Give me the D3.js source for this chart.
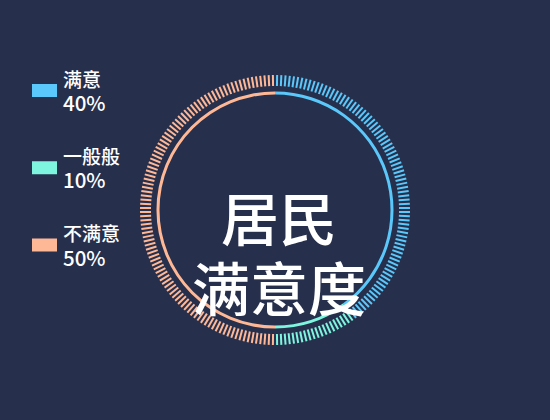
<!DOCTYPE html>
<html>
<head>
<meta charset="utf-8">
<script src="https://cdn.jsdelivr.net/npm/d3@7"></script>
<style>
	html, body { margin: 0; padding: 0; background: #262f4c; }
	svg { display: block; }
</style>
</head>
<body>
<div id="chart"></div>
<script>
// chart data
const categories = ['满意', '一般般', '不满意'];
const values = [40, 10, 50];
const colors = ['#5ac8fa', '#7ef5de', '#ffb896'];
const titleLines = ['居民', '满意度'];
const TICK_COUNT = 200;

const WIDTH = 550;
const HEIGHT = 420;
const CENTER = { X: 275, Y: 210 };
const RING = { INNER: 115.5, OUTER: 118.5 };
const TICK = { INNER: 124, OUTER: 135 };
const FONT = '"Noto Sans CJK SC", "Noto Sans", sans-serif';

var svg = d3.select('#chart').append('svg')
	.attr('width', WIDTH)
	.attr('height', HEIGHT);

svg.append('rect')
	.attr('width', WIDTH)
	.attr('height', HEIGHT)
	.attr('fill', '#262f4c');

var total = d3.sum(values);
var pie = d3.pie().sort(null).value(function (d) { return d; });
var slices = pie(values);

// blue slice fades into the next colour near its end
var defs = svg.append('defs');
var grad = defs.append('linearGradient')
	.attr('id', 'fade0')
	.attr('gradientUnits', 'userSpaceOnUse')
	.attr('x1', 0).attr('y1', CENTER.Y + 60)
	.attr('x2', 0).attr('y2', CENTER.Y + 98);
grad.append('stop').attr('offset', '0%').attr('stop-color', colors[0]);
grad.append('stop').attr('offset', '100%').attr('stop-color', colors[1]);

var g = svg.append('g')
	.attr('transform', 'translate(' + CENTER.X + ',' + CENTER.Y + ')');

var arc = d3.arc().innerRadius(RING.INNER).outerRadius(RING.OUTER);

g.selectAll('.ring')
	.data(slices)
	.enter()
	.append('path')
	.attr('class', 'ring')
	.attr('d', arc)
	.attr('fill', function (d, i) { return i === 0 ? 'url(#fade0)' : colors[i]; });

// dashed outer ring
var angle = d3.scaleLinear().domain([0, TICK_COUNT]).range([0, 2 * Math.PI]);
var ticks = d3.range(TICK_COUNT).map(function (i) { return angle(i + 0.5); });

function colorAt (a) {
	for (var i = 0; i < slices.length; i++) {
		if (a >= slices[i].startAngle && a < slices[i].endAngle) return colors[i];
	}
	return colors[colors.length - 1];
}

g.selectAll('.tick')
	.data(ticks)
	.enter()
	.append('line')
	.attr('class', 'tick')
	.attr('x1', function (a) { return TICK.INNER * Math.sin(a); })
	.attr('y1', function (a) { return -TICK.INNER * Math.cos(a); })
	.attr('x2', function (a) { return TICK.OUTER * Math.sin(a); })
	.attr('y2', function (a) { return -TICK.OUTER * Math.cos(a); })
	.attr('stroke', colorAt)
	.attr('stroke-width', 2);

// title in the middle
svg.selectAll('.title')
	.data(titleLines)
	.enter()
	.append('text')
	.attr('class', 'title')
	.attr('x', 279)
	.attr('y', function (d, i) { return 216 + i * 70; })
	.attr('text-anchor', 'middle')
	.attr('dominant-baseline', 'central')
	.attr('font-family', FONT)
	.attr('font-size', 58)
	.attr('font-weight', 500)
	.attr('fill', '#ffffff')
	.text(function (d) { return d; });

// legend
var legendY = d3.scalePoint().domain(categories).range([90.5, 245]);
var legend = svg.selectAll('.legend')
	.data(categories)
	.enter()
	.append('g')
	.attr('class', 'legend')
	.attr('transform', function (d) { return 'translate(32,' + legendY(d) + ')'; });

legend.append('rect')
	.attr('x', 0)
	.attr('y', -6.5)
	.attr('width', 25)
	.attr('height', 13)
	.attr('fill', function (d, i) { return colors[i]; });

legend.append('text')
	.attr('x', 31)
	.attr('y', -4)
	.attr('font-family', FONT)
	.attr('font-size', 19)
	.attr('font-weight', 500)
	.attr('fill', '#ffffff')
	.text(function (d) { return d; });

legend.append('text')
	.attr('x', 31)
	.attr('y', 20.5)
	.attr('font-family', FONT)
	.attr('font-size', 20.5)
	.attr('font-weight', 500)
	.attr('fill', '#ffffff')
	.text(function (d, i) { return Math.round(values[i] / total * 100) + '%'; });
</script>
</body>
</html>
